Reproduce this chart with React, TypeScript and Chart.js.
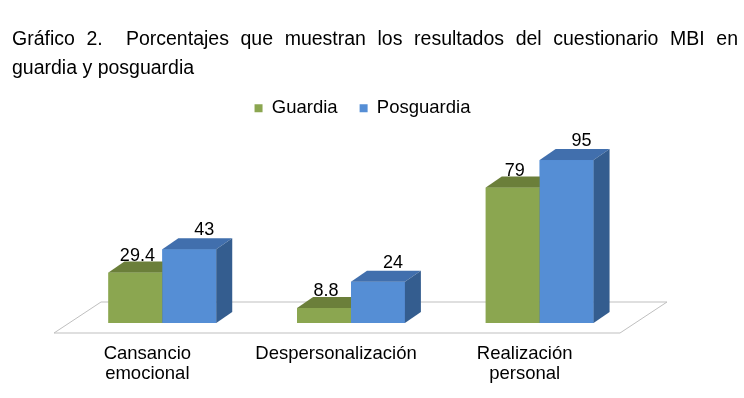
import React, { useEffect, useRef } from "react";
import { Chart, registerables } from "chart.js";

Chart.register(...registerables);

const categories: (string | string[])[] = [
  ["Cansancio", "emocional"],
  "Despersonalización",
  ["Realización", "personal"],
];
const seriesNames = ["Guardia", "Posguardia"];
const guardia = [29.4, 8.8, 79];
const posguardia = [43, 24, 95];
const valueLabels = [
  ["29.4", "8.8", "79"],
  ["43", "24", "95"],
];

const FRONT = ["#8BA650", "#558ED5"];
const TOP = ["#6B7F3A", "#416FAD"];
const SIDE = ["#5C6E32", "#345D8F"];
const LABEL_DX = [2, 15];
const LABEL_DY = [-16.5, -19];
const DX = 16;
const DY = -11;
const FONT = "'Liberation Sans', Arial, sans-serif";

const bars3d = {
  id: "bars3d",
  beforeDatasetsDraw(chart: any) {
    const { ctx, chartArea } = chart;
    const y0 = chart.scales.y.getPixelForValue(0);
    ctx.save();
    ctx.beginPath();
    ctx.moveTo(chartArea.left - 14, y0 + 10);
    ctx.lineTo(chartArea.right - 14, y0 + 10);
    ctx.lineTo(chartArea.right + 33, y0 - 21);
    ctx.lineTo(chartArea.left + 33, y0 - 21);
    ctx.closePath();
    ctx.fillStyle = "#ffffff";
    ctx.fill();
    ctx.strokeStyle = "#BFBFBF";
    ctx.lineWidth = 1;
    ctx.stroke();
    ctx.restore();
  },
  afterDatasetsDraw(chart: any) {
    const { ctx } = chart;
    const n = chart.data.labels.length;
    const nd = chart.data.datasets.length;
    ctx.save();
    for (let i = 0; i < n; i++) {
      for (let d = 0; d < nd; d++) {
        const el = chart.getDatasetMeta(d).data[i];
        const { x, y, base, width } = el.getProps(["x", "y", "base", "width"], true);
        const l = x - width / 2;
        const r = x + width / 2;
        ctx.fillStyle = FRONT[d];
        ctx.fillRect(l, y, width, base - y);
        ctx.beginPath();
        ctx.moveTo(l, y);
        ctx.lineTo(r, y);
        ctx.lineTo(r + DX, y + DY);
        ctx.lineTo(l + DX, y + DY);
        ctx.closePath();
        ctx.fillStyle = TOP[d];
        ctx.fill();
        ctx.beginPath();
        ctx.moveTo(r, y);
        ctx.lineTo(r + DX, y + DY);
        ctx.lineTo(r + DX, base + DY);
        ctx.lineTo(r, base);
        ctx.closePath();
        ctx.fillStyle = SIDE[d];
        ctx.fill();
      }
    }
    ctx.font = `18px ${FONT}`;
    ctx.fillStyle = "#000";
    ctx.textAlign = "center";
    ctx.textBaseline = "middle";
    for (let d = 0; d < nd; d++) {
      chart.getDatasetMeta(d).data.forEach((el: any, i: number) => {
        const { x, y } = el.getProps(["x", "y"], true);
        ctx.fillText(valueLabels[d][i], x + LABEL_DX[d], y + LABEL_DY[d]);
      });
    }
    ctx.restore();
  },
};

export default function App() {
  const ref = useRef<HTMLCanvasElement>(null);
  useEffect(() => {
    if (!ref.current) return;
    const chart = new Chart(ref.current, {
      type: "bar",
      data: {
        labels: categories as any,
        datasets: [
          { label: seriesNames[0], data: guardia, backgroundColor: FRONT[0], borderWidth: 0 },
          { label: seriesNames[1], data: posguardia, backgroundColor: FRONT[1], borderWidth: 0 },
        ],
      },
      options: {
        animation: false,
        responsive: false,
        devicePixelRatio: 1,
        layout: { padding: { left: 68, right: 87, top: 77, bottom: -7 } },
        datasets: { bar: { categoryPercentage: 0.5714, barPercentage: 1 } },
        plugins: {
          legend: {
            position: "top",
            labels: {
              boxWidth: 8,
              boxHeight: 8,
              padding: 22,
              color: "#000",
              font: { family: FONT, size: 18.5 },
            },
          },
          tooltip: { enabled: false },
          title: { display: false },
        },
        scales: {
          x: {
            grid: { display: false, drawTicks: false },
            border: { display: false },
            ticks: {
              color: "#000",
              font: { family: FONT, size: 18.5, lineHeight: "20px" },
              padding: 21,
              labelOffset: -15,
              maxRotation: 0,
              autoSkip: false,
            },
          },
          y: {
            position: "right",
            min: 0,
            max: 114,
            grid: { display: false, drawTicks: false },
            border: { display: false },
            ticks: { display: false },
            afterFit: (s: any) => {
              s.width = 23;
            },
          },
        },
      },
      plugins: [bars3d],
    });
    return () => chart.destroy();
  }, []);

  return (
    <div style={{ position: "absolute", left: 0, top: 0, width: 744, height: 398, background: "#fff" }}>
      <canvas ref={ref} width={744} height={398} style={{ position: "absolute", left: 0, top: 0, display: "block" }} />
      <div
        style={{
          position: "absolute",
          left: 12,
          top: 23.5,
          width: 726,
          fontFamily: FONT,
          fontSize: 19.5,
          lineHeight: "29.5px",
          textAlign: "justify",
          color: "#000",
        }}
      >
        Gráfico 2.&nbsp; Porcentajes que muestran los resultados del cuestionario MBI en guardia y posguardia
      </div>
    </div>
  );
}
